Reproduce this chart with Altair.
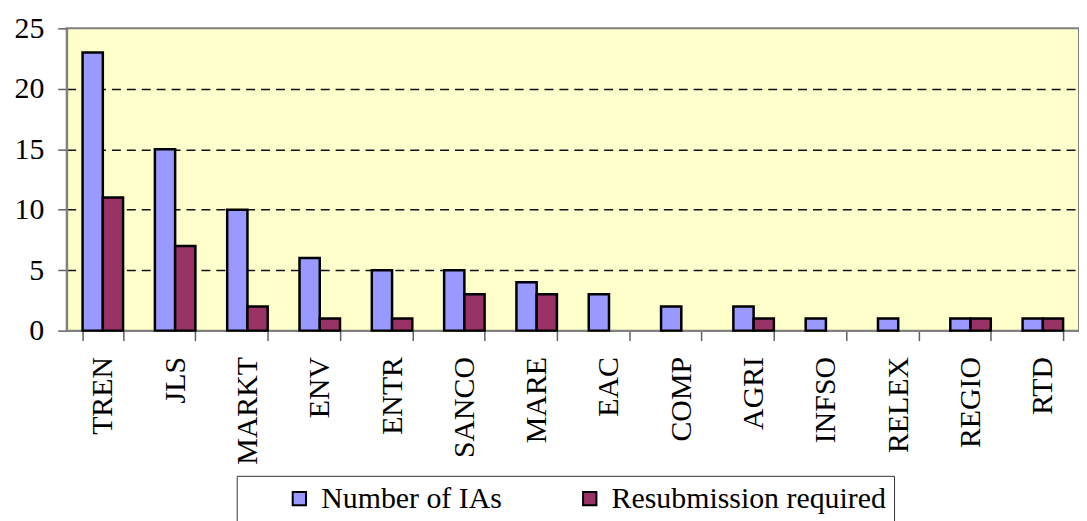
import altair as alt
import pandas as pd

categories = ["TREN", "JLS", "MARKT", "ENV", "ENTR", "SANCO", "MARE", "EAC",
              "COMP", "AGRI", "INFSO", "RELEX", "REGIO", "RTD"]
number_of_ias = [23, 15, 10, 6, 5, 5, 4, 3, 2, 2, 1, 1, 1, 1]
resubmission = [11, 7, 2, 1, 1, 3, 3, 0, 0, 1, 0, 0, 1, 1]
series_names = ["Number of IAs", "Resubmission required"]
series_colors = ["#9999FF", "#993366"]
y_ticks = [0, 5, 10, 15, 20, 25]

rows = []
for c, a, b in zip(categories, number_of_ias, resubmission):
    rows.append({"cat": c, "series": series_names[0], "value": a})
    rows.append({"cat": c, "series": series_names[1], "value": b})
df = pd.DataFrame(rows)

FONT = "Liberation Serif"

chart = alt.Chart(df).transform_filter("datum.value > 0").mark_bar(
    stroke="black", strokeWidth=2.5
).encode(
    x=alt.X("cat:N", sort=categories, title=None,
            scale=alt.Scale(paddingInner=0.44, paddingOuter=0.22),
            axis=alt.Axis(labelAngle=-90, labelFont=FONT, labelFontSize=30,
                          labelColor="black", labelPadding=16, labelLimit=400,
                          tickBand="extent", tickSize=10, tickColor="#606060",
                          tickWidth=1.5, domainColor="#808080", domainWidth=2,
                          grid=False)),
    xOffset=alt.XOffset("series:N", sort=series_names,
                        scale=alt.Scale(domain=series_names, paddingInner=0, paddingOuter=0)),
    y=alt.Y("value:Q", title=None,
            scale=alt.Scale(domain=[0, 25], nice=False),
            axis=alt.Axis(values=y_ticks, labelFont=FONT, labelFontSize=30,
                          labelColor="black", labelPadding=14, tickSize=9,
                          tickColor="#606060", tickWidth=1.5,
                          domainColor="#808080", domainWidth=2,
                          grid=True, gridColor="#111111", gridWidth=1.5,
                          gridDash=[9, 6],
                          gridOpacity={"condition": {"test": "datum.value >= 25 || datum.value <= 0", "value": 0}, "value": 1})),
    color=alt.Color("series:N", sort=series_names,
                    scale=alt.Scale(domain=series_names, range=series_colors),
                    legend=alt.Legend(title=None, orient="none", direction="horizontal",
                                      legendX=171, legendY=450,
                                      labelFont=FONT, labelFontSize=30, labelColor="black",
                                      labelLimit=600,
                                      symbolType="square", symbolSize=180,
                                      symbolStrokeColor="black", symbolStrokeWidth=2,
                                      symbolOpacity=1,
                                      symbolOffset=40, labelOffset=7,
                                      columnPadding=33,
                                      strokeColor="#333333", padding=8,
                                      fillColor="white")),
).properties(
    width=1018, height=304,
    autosize=alt.AutoSizeParams(type="none"),
    padding={"left": 59, "top": 19, "right": 0, "bottom": 190},
).configure_view(
    fill="#FFFFCC", stroke="#808080", strokeWidth=2
)

chart.save("out.html", embed_options={"renderer": "svg", "actions": False})
